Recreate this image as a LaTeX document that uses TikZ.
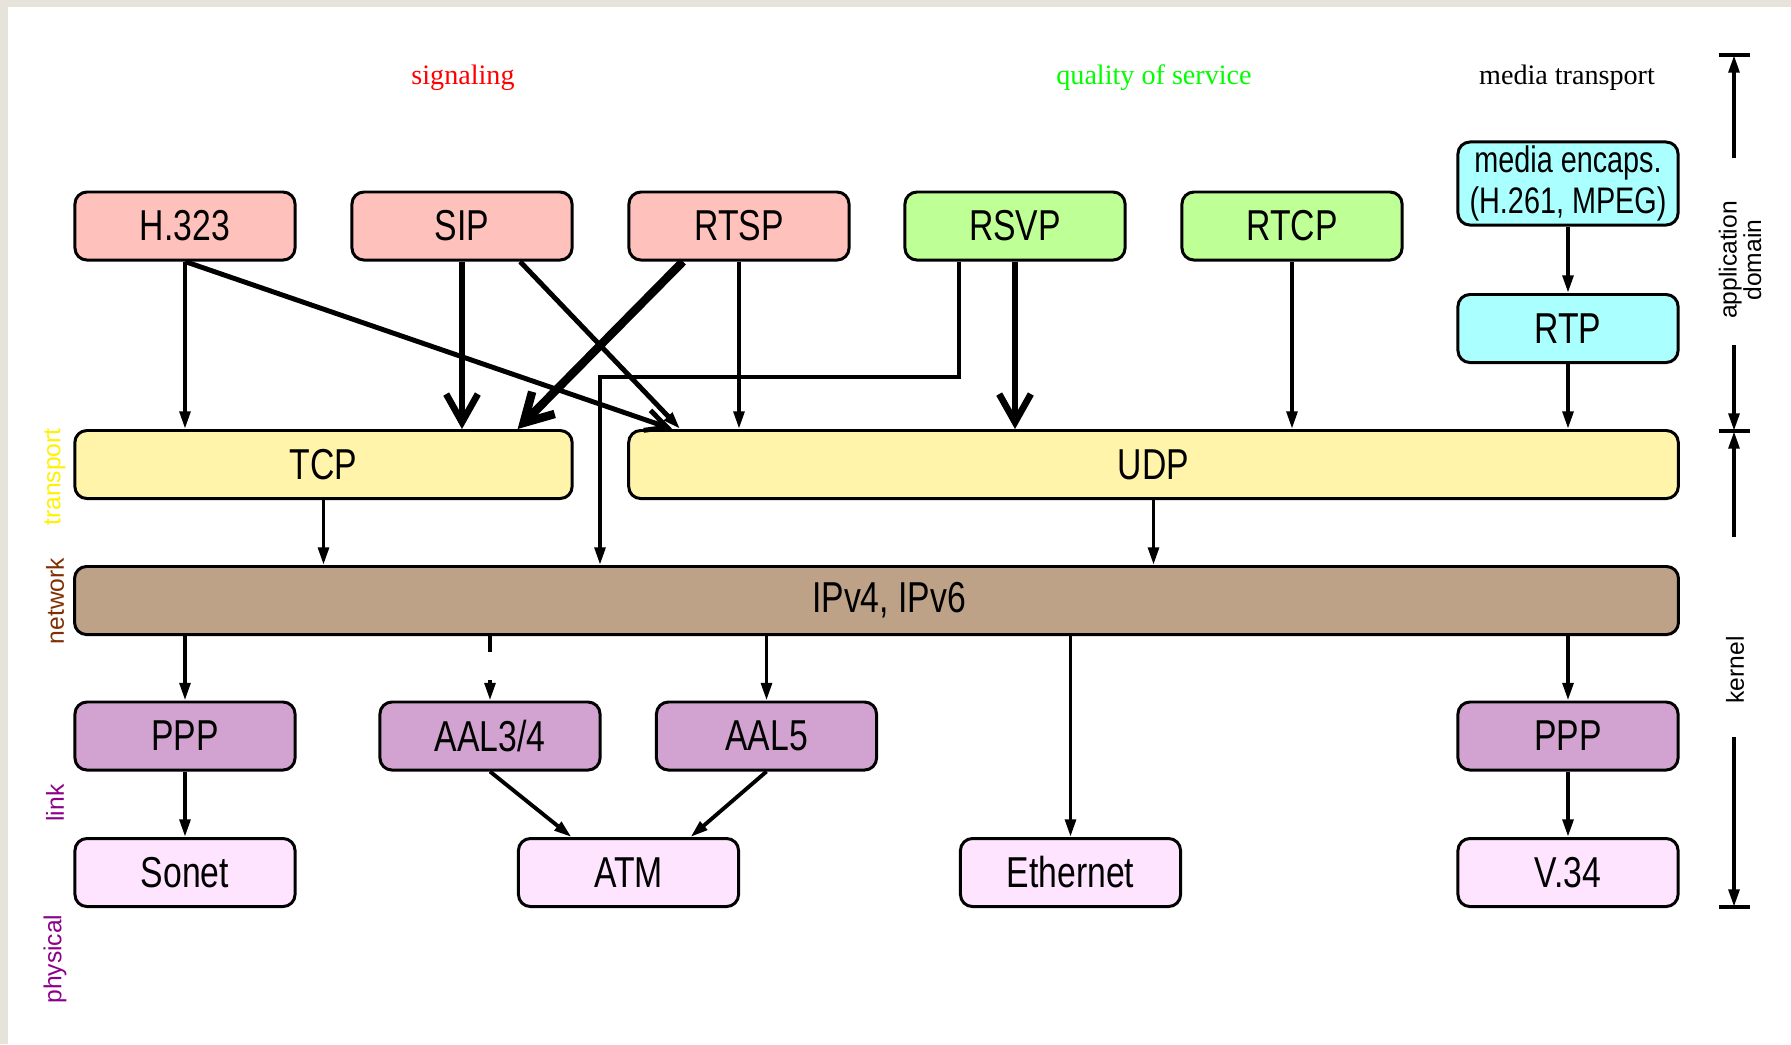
\documentclass[tikz,border=0pt]{standalone}
\usepackage{fontspec}
\setmainfont{Liberation Serif}
\setsansfont{Liberation Sans}
\newfontfamily\boxfont{Liberation Sans}[FakeStretch=0.78]
\usetikzlibrary{arrows.meta}
\definecolor{sigpink}{RGB}{255,193,188}
\definecolor{qosgreen}{RGB}{190,255,150}
\definecolor{mediacyan}{RGB}{170,255,255}
\definecolor{trsyellow}{RGB}{255,244,170}
\definecolor{nettan}{RGB}{190,162,136}
\definecolor{linkpurple}{RGB}{210,162,208}
\definecolor{physpink}{RGB}{255,228,255}
\definecolor{framegray}{RGB}{230,228,218}
\definecolor{nettext}{RGB}{128,48,0}
\definecolor{linktext}{RGB}{140,0,140}

\begin{document}
\begin{tikzpicture}[
  x=0.01cm, y=-0.01cm,
  layer/.style={
    draw, rounded corners=0.12cm, line width=0.85pt,
    minimum width=2.2cm, minimum height=0.68cm, inner sep=0pt,
    font=\boxfont\fontsize{12.3}{14}\selectfont
  },
  sigbox/.style={layer, fill=sigpink},
  qosbox/.style={layer, fill=qosgreen},
  mediabox/.style={layer, fill=mediacyan},
  trbox/.style={layer, fill=trsyellow},
  netbox/.style={layer, fill=nettan},
  linkbox/.style={layer, fill=linkpurple},
  physbox/.style={layer, fill=physpink},
  head/.style={font=\fontsize{8}{9}\selectfont},
  side/.style={font=\sffamily\fontsize{7}{7}\selectfont, inner sep=0pt},
  arr/.style={-{Triangle[length=5pt,width=3pt]}, line width=1.1pt},
  bigarr/.style={-{Straight Barb[length=8pt,width=9pt]}, line width=1.9pt},
  midarr/.style={-{Straight Barb[length=6pt,width=6pt]}, line width=1.4pt}
]
  \useasboundingbox (0,0) rectangle (1791,1044);
  \fill[white] (0,0) rectangle (1791,1044);
  \fill[framegray] (0,0) rectangle (1791,7);
  \fill[framegray] (0,0) rectangle (8,1044);

  \node[head, text=red] (sighead) at (463,78) {signaling};
  \node[head, text=green] (qoshead) at (1154,78) {quality of service};
  \node[head] (mediahead) at (1567,78) {media transport};

  \foreach \nm/\x/\txt in {h323/185/H.323, sip/462/SIP, rtsp/739/RTSP} {
    \node[sigbox] (\nm) at (\x,226) {\txt};
  }
  \foreach \nm/\x/\txt in {rsvp/1015/RSVP, rtcp/1292/RTCP} {
    \node[qosbox] (\nm) at (\x,226) {\txt};
  }
  \node[mediabox, minimum height=0.83cm, align=center,
    font=\boxfont\fontsize{10.5}{11.5}\selectfont] (encaps) at (1568,183.5)
    {media encaps.\\(H.261, MPEG)};
  \node[mediabox] (rtp) at (1568,328.5) {RTP};
  \node[trbox, minimum width=4.97cm] (tcp) at (323.5,464.5) {TCP};
  \node[trbox, minimum width=10.49cm] (udp) at (1153.5,464.5) {UDP};
  \node[netbox, minimum width=16.03cm] (ip) at (876.5,600.5) {\hspace*{0.25cm}IPv4, IPv6};
  \foreach \nm/\x/\txt in {ppp1/185/PPP, aal34/490/{AAL3/4}, aal5/766.5/AAL5, ppp2/1568/PPP} {
    \node[linkbox] (\nm) at (\x,736) {\txt};
  }
  \foreach \nm/\x/\txt in {sonet/185/Sonet, atm/628.5/ATM, eth/1070.5/Ethernet, v34/1568/V.34} {
    \node[physbox] (\nm) at (\x,872.5) {\txt};
  }

  \node[side, rotate=90, text=yellow] (ltrans) at (55,477) {transport};
  \node[side, rotate=90, text=nettext] (lnet) at (55,601) {network};
  \node[side, rotate=90, text=linktext] (llink) at (55,803) {link};
  \node[side, rotate=90, text=linktext] (lphys) at (55,959) {physical};

  \draw[arr] (h323.south) -- (h323.south |- tcp.north);
  \draw[midarr] (h323.south) -- ([xshift=0.45cm]udp.north west);
  \draw[bigarr] (sip.south) -- (sip.south |- tcp.north);
  \draw[arr, line width=1.4pt] ([xshift=0.58cm]sip.south) -- ([xshift=0.53cm]udp.north west);
  \draw[bigarr, line width=2.4pt] ([xshift=-0.56cm]rtsp.south) -- ([xshift=-0.56cm]tcp.north east);
  \draw[arr] (rtsp.south) -- (rtsp.south |- udp.north);
  \coordinate (bend) at (600,377);
  \draw[arr] ([xshift=-0.56cm]rsvp.south) |- (bend) -- (bend |- ip.north);
  \draw[bigarr] (rsvp.south) -- (rsvp.south |- udp.north);
  \draw[arr] (rtcp.south) -- (rtcp.south |- udp.north);
  \draw[arr] (encaps) -- (rtp);
  \draw[arr] (rtp) -- (rtp.south |- udp.north);
  \draw[arr] (tcp) -- (tcp.south |- ip.north);
  \draw[arr] (udp) -- (udp.south |- ip.north);
  \foreach \n in {ppp1, aal5, eth, ppp2} {
    \draw[arr] (\n.north |- ip.south) -- (\n);
  }
  \draw[arr, dash pattern=on 4.5pt off 8pt] (aal34.north |- ip.south) -- (aal34);
  \draw[arr] (ppp1) -- (sonet);
  \draw[arr] (ppp2) -- (v34);
  \draw[arr] (aal34.south) -- ([xshift=-0.57cm]atm.north);
  \draw[arr] (aal5.south) -- ([xshift=0.62cm]atm.north);

  \coordinate (ttop) at (1734,55);
  \coordinate (tmid) at (1734,431);
  \coordinate (tbot) at (1734,907);
  \foreach \t in {ttop, tmid, tbot} {
    \draw[line width=0.9pt] ([xshift=-0.15cm]\t) -- ([xshift=0.16cm]\t);
  }
  \node[side, rotate=90, align=center] (appl) at (1740,260) {application\\domain};
  \node[side, rotate=90] (kern) at (1735,670) {kernel};
  \coordinate (a1) at (1734,158);
  \coordinate (a2) at (1734,345);
  \coordinate (a3) at (1734,537);
  \coordinate (a4) at (1734,737);
  \draw[arr] (a1) -- (ttop);
  \draw[arr] (a2) -- (tmid);
  \draw[arr] (a3) -- (tmid);
  \draw[arr] (a4) -- (tbot);
\end{tikzpicture}
\end{document}
